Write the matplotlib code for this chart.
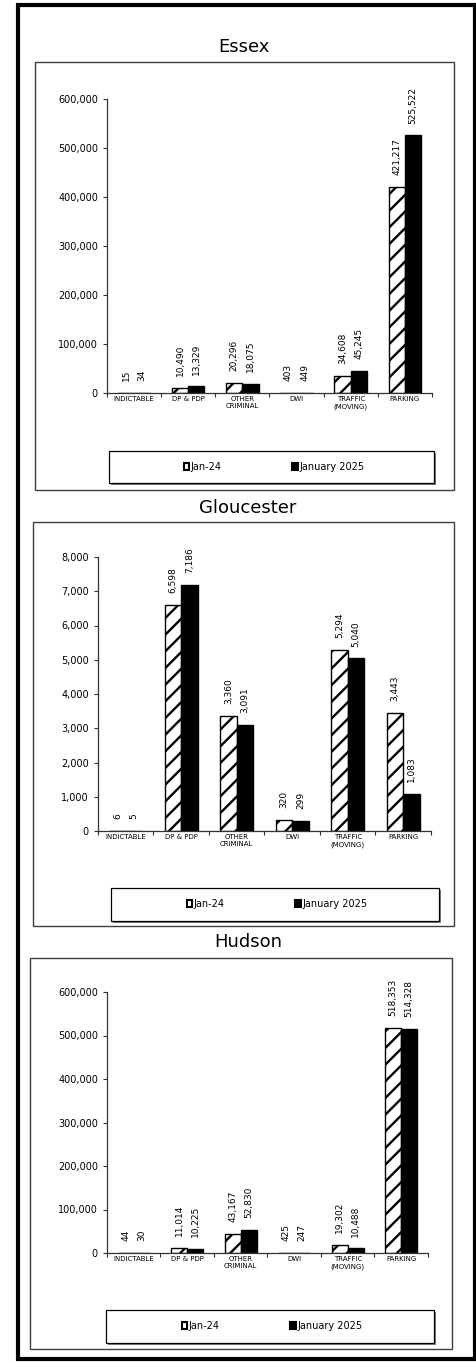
import numpy as np
import matplotlib
matplotlib.use("Agg")
import matplotlib.pyplot as plt
from matplotlib.patches import Rectangle, Patch
from matplotlib.ticker import FuncFormatter, MultipleLocator

# ── Data ──────────────────────────────────────────────────────────────────────
categories = ["INDICTABLE", "DP & PDP", "OTHER\nCRIMINAL", "DWI", "TRAFFIC\n(MOVING)", "PARKING"]
series_names = ["Jan-24", "January 2025"]

essex_jan24 = [15, 10490, 20296, 403, 34608, 421217]
essex_jan25 = [34, 13329, 18075, 449, 45245, 525522]

gloucester_jan24 = [6, 6598, 3360, 320, 5294, 3443]
gloucester_jan25 = [5, 7186, 3091, 299, 5040, 1083]

hudson_jan24 = [44, 11014, 43167, 425, 19302, 518353]
hudson_jan25 = [30, 10225, 52830, 247, 10488, 514328]

# ── Layout (pixel coords on a 477x1362 canvas) ───────────────────────────────
W, H = 477, 1362
plt.rcParams["font.family"] = ["DejaVu Sans"]
plt.rcParams["hatch.linewidth"] = 1.7

panels = [
    dict(title="Essex", a=essex_jan24, b=essex_jan25, ymax=600000, step=100000,
         title_xy=(244, 47), box=(35, 62, 454, 490), axes=(107, 99, 432, 393),
         legend_box=(109, 451, 434, 483), legend_c=(274, 467)),
    dict(title="Gloucester", a=gloucester_jan24, b=gloucester_jan25, ymax=8000, step=1000,
         title_xy=(248, 508), box=(33, 522, 454, 926), axes=(98, 557, 431, 831),
         legend_box=(111, 888, 439, 921), legend_c=(277, 904)),
    dict(title="Hudson", a=hudson_jan24, b=hudson_jan25, ymax=600000, step=100000,
         title_xy=(248, 942), box=(30, 958, 452, 1349), axes=(107, 992, 428, 1253),
         legend_box=(106, 1310, 434, 1343), legend_c=(272, 1326)),
]


def rect_px(l, t, r, b, **kw):
    return Rectangle((l / W, 1 - b / H), (r - l) / W, (b - t) / H,
                     transform=fig.transFigure, **kw)


fig = plt.figure(figsize=(W / 100, H / 100), dpi=100)
fig.patch.set_facecolor("white")

# outer frame
fig.patches.append(rect_px(17.5, 4.5, 475.5, 1359, fill=False, lw=3, ec="black"))

x = np.arange(len(categories))
bw = 0.3
axis_col = "#333333"

for p in panels:
    l, t, r, b = p["box"]
    fig.patches.append(rect_px(l, t, r, b, fill=False, lw=1, ec="#404040", zorder=-1))
    fig.text(p["title_xy"][0] / W, 1 - p["title_xy"][1] / H, p["title"],
             ha="center", va="center", fontsize=13)

    al, at, ar, ab = p["axes"]
    ax = fig.add_axes([al / W, 1 - ab / H, (ar - al) / W, (ab - at) / H])
    ax.patch.set_alpha(0)

    bars_a = ax.bar(x - bw / 2, p["a"], bw, color="white", edgecolor="black",
                    hatch="//", lw=1.0, label=series_names[0])
    bars_b = ax.bar(x + bw / 2, p["b"], bw, color="black", edgecolor="black",
                    lw=1.0, label=series_names[1])
    for bars, vals in ((bars_a, p["a"]), (bars_b, p["b"])):
        for rect, v in zip(bars, vals):
            ax.annotate(f"{v:,}", (rect.get_x() + rect.get_width() / 2, rect.get_height()),
                        xytext=(0, 8.5), textcoords="offset points", rotation=90,
                        ha="center", va="bottom", fontsize=6.5, annotation_clip=False)

    ax.set_xlim(-0.5, len(categories) - 0.5)
    ax.set_ylim(0, p["ymax"])
    ax.yaxis.set_major_locator(MultipleLocator(p["step"]))
    ax.yaxis.set_major_formatter(FuncFormatter(lambda v, pos: f"{v:,.0f}"))

    for s in ("top", "right"):
        ax.spines[s].set_visible(False)
    for s in ("left", "bottom"):
        ax.spines[s].set_color(axis_col)
        ax.spines[s].set_linewidth(0.9)

    ax.set_xticks(np.arange(-0.5, len(categories), 1))
    ax.set_xticklabels([])
    ax.set_xticks(x, minor=True)
    ax.set_xticklabels(categories, minor=True, fontsize=5)
    ax.tick_params(axis="x", which="major", direction="out", length=3, color=axis_col)
    ax.tick_params(axis="x", which="minor", length=0, pad=2.5)
    ax.tick_params(axis="y", direction="out", length=3, labelsize=7, pad=3.5, color=axis_col)

    # legend box with shadow
    ll, lt, lr, lb = p["legend_box"]
    fig.patches.append(rect_px(ll + 2, lt + 2, lr + 2, lb + 2, fc="#7f7f7f", ec="none", zorder=-2))
    fig.patches.append(rect_px(ll, lt, lr, lb, fc="white", ec="black", lw=0.9, zorder=-1))
    handles = [Patch(facecolor="white", edgecolor="black", lw=1.5),
               Patch(facecolor="black", edgecolor="black", lw=1.5)]
    ax.legend(handles, series_names, loc="center",
              bbox_to_anchor=(p["legend_c"][0] / W, 1 - p["legend_c"][1] / H),
              bbox_transform=fig.transFigure, ncol=2, frameon=False, fontsize=7,
              handlelength=0.6, handleheight=0.6, handletextpad=0.15, columnspacing=7.2,
              borderpad=0)

fig.savefig("out.png", dpi=100)
